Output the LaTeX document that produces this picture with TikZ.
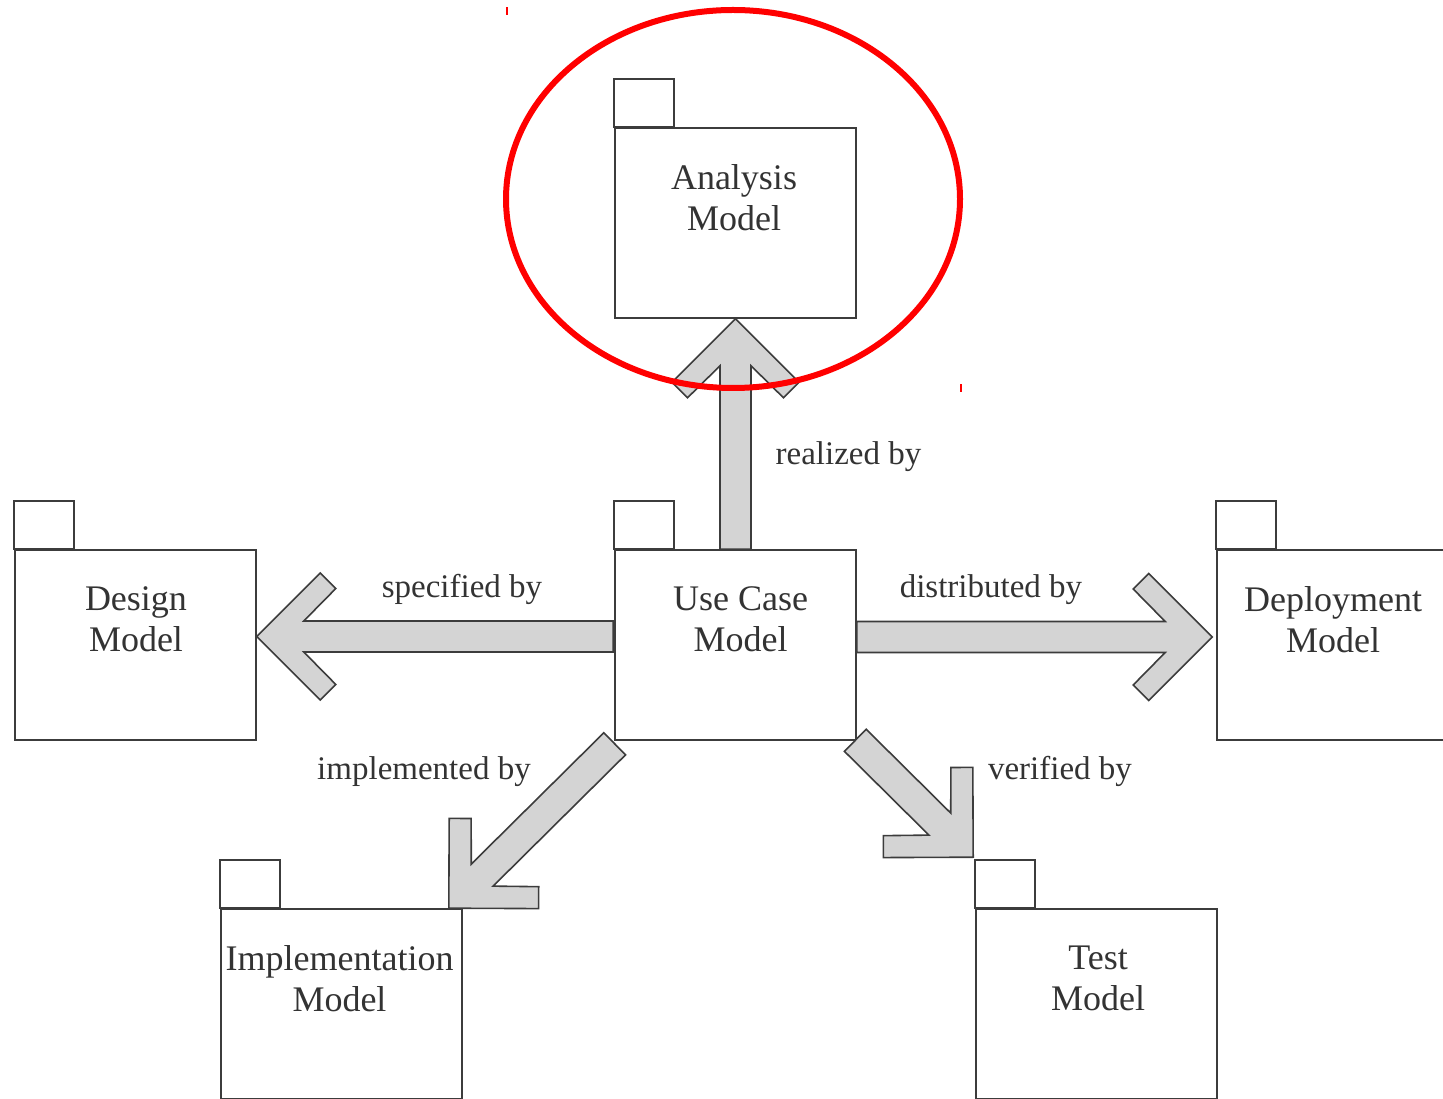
\documentclass[tikz,border=0pt]{standalone}
\usepackage{fontspec}
\setmainfont{Liberation Serif}
\usetikzlibrary{calc}
\definecolor{lc}{HTML}{3C3C3C}
\definecolor{fc}{HTML}{D4D4D4}
\definecolor{tc}{HTML}{333333}
\tikzset{
  pkg/.style={draw=lc, line width=1.6pt, fill=white, minimum width=241pt, minimum height=190pt, inner sep=0pt},
  tabbox/.style={draw=lc, line width=1.6pt, fill=white},
  pkgtext/.style={text=tc, font=\fontsize{36}{41}\selectfont, align=center, inner sep=0pt},
  lbl/.style={text=tc, font=\fontsize{33}{38}\selectfont, inner sep=0pt, anchor=base},
  blk/.style={draw=lc, line width=1.6pt, fill=fc, line join=miter},
}
\newcommand\chevarrow[2]{%
  \draw[blk] let \p1=(#1), \p2=(#2),
    \n1={atan2(\y2-\y1,\x2-\x1)}, \n2={veclen(\x2-\x1,\y2-\y1)} in
    [shift={(\p2)}, rotate=\n1]
    (-\n2,15.5pt) -- (-47pt,15.5pt) -- (-79pt,48pt) -- (-63.5pt,63.5pt) -- (0pt,0pt)
    -- (-63.5pt,-63.5pt) -- (-79pt,-48pt) -- (-47pt,-15.5pt) -- (-\n2,-15.5pt) -- cycle;}
\newcommand\pkgnode[5]{% name, position, text name, text x offset, text
  \node[pkg] (#1) at (#2) {};
  \draw[tabbox] (#1.north west) rectangle ++(59.5,48);
  \node[pkgtext] (#3) at ($(#1.north)+(#4,-70)$) {#5};}
\begin{document}
\begin{tikzpicture}[x=1pt,y=1pt]
\useasboundingbox (0,0) rectangle (1443,1098);
\clip (0,0) rectangle (1443,1098);

\pkgnode{an}{735.5,875}{ant}{-1.5}{Analysis\\Model}
\pkgnode{uc}{735.5,453}{uct}{5}{Use Case\\Model}
\pkgnode{des}{135.5,453}{dest}{0.5}{Design\\Model}
\pkgnode{dep}{1337.5,453}{dept}{-4.5}{Deployment\\Model}
\pkgnode{impl}{341.5,94}{implt}{-2}{Implementation\\Model}
\pkgnode{test}{1096.5,94}{testt}{1.5}{Test\\Model}

\coordinate (upS) at (uc.north);
\coordinate (upE) at (an.south);
\coordinate (lS) at ($(uc.west)+(-1,8.5)$);
\coordinate (lE) at ($(des.east)+(0,8.5)$);
\coordinate (rS) at ($(uc.east)+(0,8)$);
\coordinate (rE) at ($(dep.west)+(-4,8)$);
\coordinate (iS) at ($(uc.south west)+(0.5,-3)$);
\coordinate (iE) at ($(impl.north east)+(-14,0)$);
\coordinate (vS) at ($(uc.south east)+(-1.5,0.5)$);
\coordinate (vE) at ($(test.north west)+(-2,51)$);

\chevarrow{upS}{upE}
\chevarrow{lS}{lE}
\chevarrow{rS}{rE}
\chevarrow{iS}{iE}
\chevarrow{vS}{vE}

\node[lbl] (l1) at (848.5,633) {realized by};
\node[lbl] (l2) at (462,500) {specified by};
\node[lbl] (l3) at (991,500) {distributed by};
\node[lbl] (l4) at (424,318) {implemented by};
\node[lbl] (l5) at (1060,318) {verified by};

\draw[red, line width=6pt] (733,899) ellipse [x radius=227, y radius=189];
\draw[red, line width=1.5pt] (507,1083) -- (507,1091);
\draw[red, line width=1.5pt] (961,706) -- (961,714);
\end{tikzpicture}
\end{document}
